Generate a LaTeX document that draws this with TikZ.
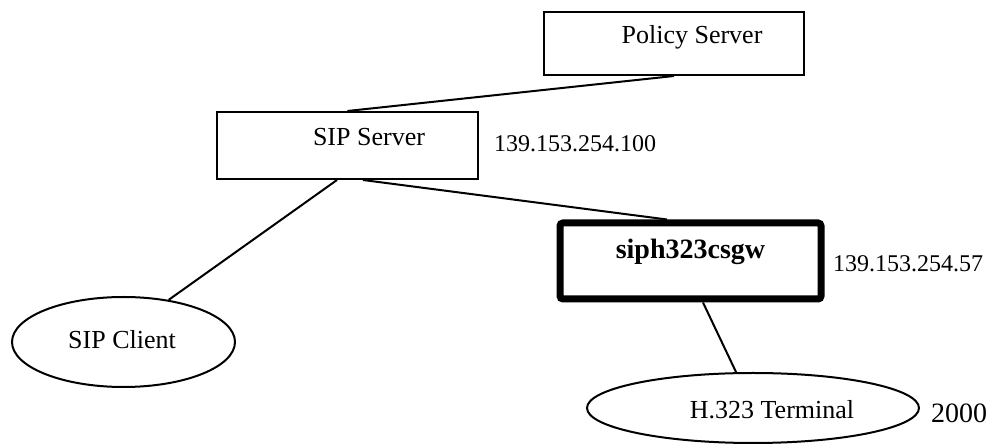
\documentclass[tikz,border=0pt]{standalone}
\usepackage{fontspec}
\setmainfont{Liberation Serif}
\usetikzlibrary{shapes.geometric}
\begin{document}
\begin{tikzpicture}[x=0.5pt, y=-0.5pt, line width=1pt,
    box/.style={draw, rectangle, inner sep=0pt},
    oval/.style={draw, ellipse, inner sep=0pt},
    txt/.style={font=\fontsize{13}{15}\selectfont, anchor=base, inner sep=0pt},
    addr/.style={font=\fontsize{12}{14}\selectfont, anchor=base west, inner sep=0pt}]
    \useasboundingbox (0,0) rectangle (992,448);
    % servers and gateway
    \node[box, minimum width=130pt, minimum height=31.5pt,
        label={[txt, name=policytxt, xshift=9pt, yshift=3.25pt]center:Policy Server}] (policy) at (674,43.5) {};
    \node[box, minimum width=130.5pt, minimum height=33.5pt,
        label={[txt, name=siptxt, xshift=10.75pt, yshift=4.25pt]center:SIP Server}] (sip) at (347.5,145.5) {};
    \node[box, line width=3.5pt, rounded corners=1.5pt, minimum width=130.5pt, minimum height=38pt,
        label={[txt, name=gwtxt, font=\fontsize{14}{16}\selectfont\bfseries, yshift=4.5pt]center:siph323csgw}] (gw) at (690.5,261) {};
    % clients
    \node[oval, minimum width=111.5pt, minimum height=45pt,
        label={[txt, name=clienttxt, xshift=-0.75pt, yshift=1pt]center:SIP Client}] (client) at (123.5,342) {};
    \node[oval, minimum width=166pt, minimum height=35pt,
        label={[txt, name=h323txt, xshift=9.5pt, yshift=-1pt]center:H.323 Terminal}] (h323) at (753,408) {};
    % addresses
    \node[addr] (sipaddr) at (493,152) {139.153.254.100};
    \node[addr] (gwaddr) at (832,272) {139.153.254.57};
    \node[addr, font=\fontsize{14}{16}\selectfont] (port) at (930,423) {2000};

    \draw (sip.north) -- (policy.south);
    \draw ([xshift=-5.25pt]sip.south) -- (client.43);
    \draw ([xshift=7.75pt]sip.south) -- ([xshift=-11.75pt]gw.north);
    \draw ([xshift=6.25pt]gw.south) -- ([xshift=-8.5pt]h323.north);
\end{tikzpicture}
\end{document}
